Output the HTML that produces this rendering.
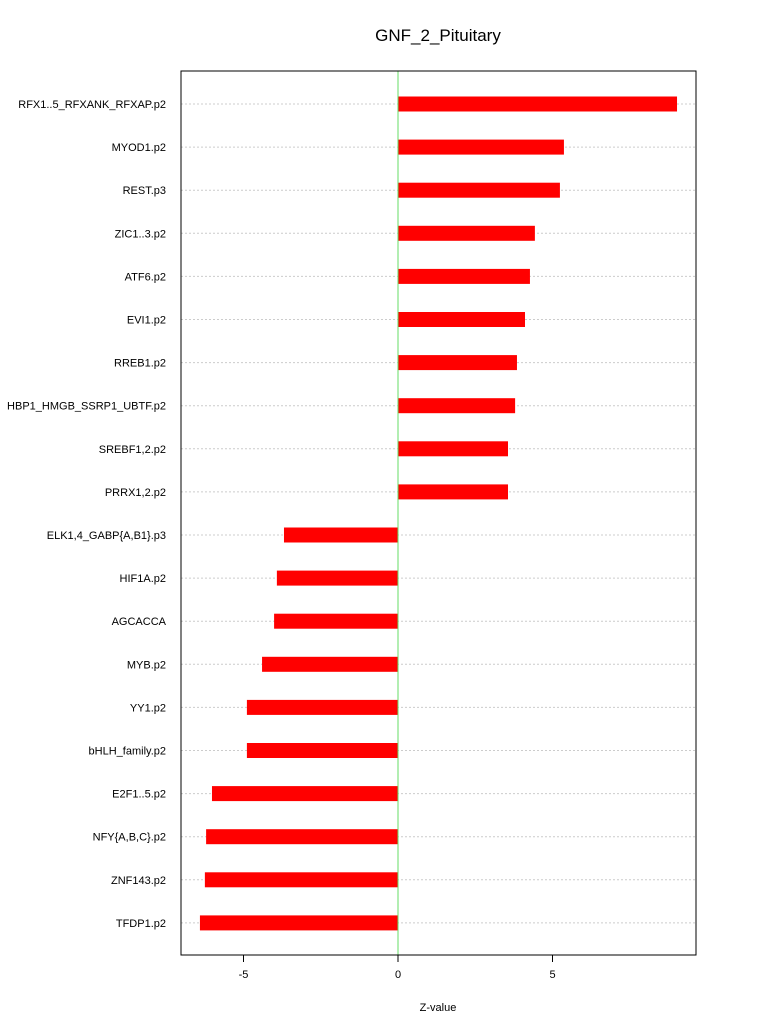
<!DOCTYPE html>
<html><head><meta charset="utf-8"><style>
body{margin:0;background:#fff;}
svg{display:block;font-family:"Liberation Sans",sans-serif;}
</style></head><body>
<svg id="chart" width="768" height="1028">
<text x="438" y="41" font-size="17" text-anchor="middle">GNF_2_Pituitary</text>
<text x="438" y="1011" font-size="11" text-anchor="middle">Z-value</text>
<g id="grid"></g><g id="bars"></g><g id="labels"></g><g id="axis"></g>
<rect x="181" y="71" width="515" height="884" fill="none" stroke="#000" stroke-width="1"/>
</svg>
<script>
const categories=["RFX1..5_RFXANK_RFXAP.p2","MYOD1.p2","REST.p3","ZIC1..3.p2","ATF6.p2","EVI1.p2","RREB1.p2","HBP1_HMGB_SSRP1_UBTF.p2","SREBF1,2.p2","PRRX1,2.p2","ELK1,4_GABP{A,B1}.p3","HIF1A.p2","AGCACCA","MYB.p2","YY1.p2","bHLH_family.p2","E2F1..5.p2","NFY{A,B,C}.p2","ZNF143.p2","TFDP1.p2"];
const values=[9.03,5.37,5.24,4.43,4.27,4.11,3.85,3.79,3.56,3.56,-3.69,-3.92,-4.01,-4.40,-4.89,-4.89,-6.02,-6.21,-6.25,-6.41];
const ticks=[-5,0,5];
const NS="http://www.w3.org/2000/svg";
const x=v=>398+v*30.9;
const y=i=>104+i*43.1;
function mk(tag,attrs,parent){const e=document.createElementNS(NS,tag);for(const k in attrs)e.setAttribute(k,attrs[k]);document.getElementById(parent).appendChild(e);return e;}
categories.forEach((c,i)=>{
  const g=mk("line",{x1:181,x2:696,y1:y(i),y2:y(i),stroke:"#ccc","stroke-dasharray":"2,2"},"grid");
  
  
  const v=values[i];
  const b=mk("rect",{x:Math.min(x(0),x(v)),y:y(i)-7.5,width:Math.abs(x(v)-x(0)),height:15,fill:"#ff0000"},"bars");
  
  
  const t=mk("text",{x:166,y:y(i)+4,"font-size":"11","text-anchor":"end"},"labels");
  t.textContent=c;
  
  
});
const zl=mk("line",{x1:x(0),x2:x(0),y1:71,y2:955,stroke:"#66dd66"},"axis");


ticks.forEach(tv=>{
  const l=mk("line",{x1:x(tv),x2:x(tv),y1:955,y2:962,stroke:"#000"},"axis");
  
  
  const t=mk("text",{x:x(tv),y:978,"font-size":"11","text-anchor":"middle"},"axis");
  t.textContent=tv;
  
  
});
</script>
</body></html>
